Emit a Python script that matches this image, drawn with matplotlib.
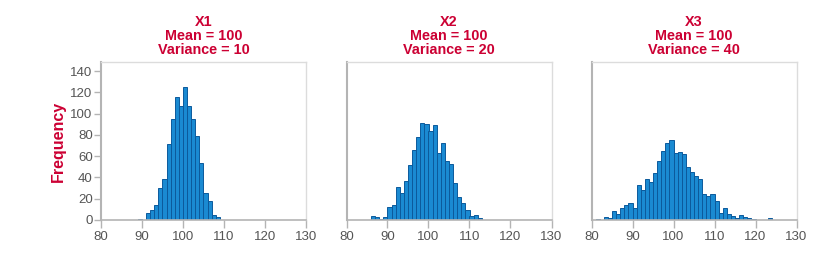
import matplotlib
matplotlib.use("Agg")
import matplotlib.pyplot as plt

# ---- data ----
x1_bins = list(range(89, 109))
x1_counts = [1, 0, 7, 9, 14, 30, 39, 71, 95, 116, 107, 125, 107, 95, 79, 54, 25, 18, 5, 3]

x2_bins = list(range(86, 113))
x2_counts = [4, 3, 1, 3, 12, 14, 31, 25, 37, 52, 66, 78, 91, 90, 84, 89, 63, 72, 55, 53,
             35, 22, 16, 9, 4, 5, 2]

x3_bins = list(range(81, 124))
x3_counts = [1, 0, 3, 2, 8, 6, 11, 14, 16, 11, 33, 28, 39, 36, 44, 55, 65, 72, 75, 63,
             64, 62, 50, 45, 41, 39, 24, 23, 24, 18, 7, 11, 6, 4, 2, 5, 3, 2, 1, 0,
             0, 0, 2]

titles = ["X1\nMean = 100\nVariance = 10",
          "X2\nMean = 100\nVariance = 20",
          "X3\nMean = 100\nVariance = 40"]
x_ticks = [80, 90, 100, 110, 120, 130]
y_ticks = [0, 20, 40, 60, 80, 100, 120, 140]
y_label = "Frequency"

# ---- style ----
red = "#cc0033"
tick_col = "#555555"
spine_dark = "#b4b4b4"
spine_light = "#dcdcdc"
bar_face = "#1a8ad2"
bar_edge = "#0c5a9c"

fig = plt.figure(figsize=(8.4, 2.63), dpi=100)
lefts = [101 / 840, 346.5 / 840, 591.5 / 840]
width = 205 / 840
bottom = 1 - 220 / 263
height = (220 - 62) / 263

series = [(x1_bins, x1_counts), (x2_bins, x2_counts), (x3_bins, x3_counts)]
for i, ((bins, counts), title) in enumerate(zip(series, titles)):
    ax = fig.add_axes([lefts[i], bottom, width, height])
    ax.bar(bins, counts, width=1.0, align="edge", color=bar_face,
           edgecolor=bar_edge, linewidth=0.7, zorder=2)
    ax.set_xlim(80, 130)
    ax.set_ylim(0, 148.5)
    ax.set_xticks(x_ticks)
    ax.set_xticklabels([str(t) for t in x_ticks], fontsize=9.5,
                       color=tick_col, family="Liberation Sans")
    ax.tick_params(axis="x", length=6, width=1, color=spine_dark, pad=2)
    if i == 0:
        ax.set_yticks(y_ticks)
        ax.set_yticklabels([str(t) for t in y_ticks], fontsize=9.5,
                           color=tick_col, family="Liberation Sans")
        ax.tick_params(axis="y", length=5, width=1, color=spine_dark, pad=1)
        ax.set_ylabel(y_label, fontsize=11.5, fontweight="bold", color=red,
                      family="Liberation Sans", labelpad=3)
    else:
        ax.set_yticks([])
    ax.spines["left"].set_color(spine_dark)
    ax.spines["left"].set_linewidth(1.5)
    ax.spines["bottom"].set_color(spine_dark)
    ax.spines["bottom"].set_linewidth(1.2)
    for s in ("top", "right"):
        ax.spines[s].set_color(spine_light)
        ax.spines[s].set_linewidth(1.0)
    ax.set_title(title, fontsize=10.4, fontweight="bold", color=red,
                 family="Liberation Sans", linespacing=0.98, pad=6)

fig.savefig("out.png", dpi=100)
